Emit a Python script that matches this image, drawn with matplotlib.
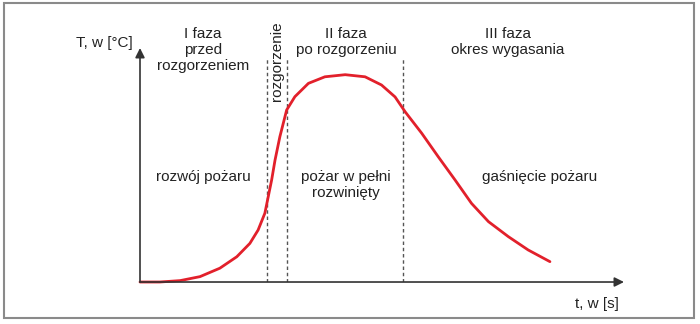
import matplotlib.pyplot as plt
import matplotlib.patches as patches

plt.rcParams['font.family'] = ['Liberation Sans', 'DejaVu Sans']

# krzywa temperatury pożaru (t i T w jednostkach umownych 0-100)
czas = [0, 4.1, 8.3, 12.4, 16.5, 20.0, 22.7, 24.4, 25.8, 26.5, 27.2, 27.9,
        28.9, 30.3, 32.0, 34.8, 38.2, 42.4, 46.5, 49.9, 52.7, 54.8, 58.2,
        61.6, 65.1, 68.5, 72.0, 76.1, 80.2, 84.7]
temperatura = [0, 0, 0.6, 2.3, 5.9, 10.8, 16.5, 22.2, 29.4, 36.5, 43.6,
               52.1, 62.1, 73.5, 79.2, 84.9, 87.7, 88.6, 87.7, 84.2, 79.1,
               72.7, 63.6, 53.6, 43.6, 33.6, 25.8, 19.4, 13.7, 8.7]

# granice faz
granice = [26.2, 30.4, 54.3]
wys_granic = 96.2

# opisy faz
faza_x = [13.0, 42.6, 76.0]
faza_opis = ["I faza\nprzed\nrozgorzeniem", "II faza\npo rozgorzeniu",
             "III faza\nokres wygasania"]
stan_x = [13.0, 42.6, 82.6]
stan_opis = ["rozwój pożaru", "pożar w pełni\nrozwinięty", "gaśnięcie pożaru"]

fig = plt.figure(figsize=(7, 3.24), dpi=100)
fig.patches.append(patches.Rectangle((0.006, 0.018), 0.985, 0.972,
                                     transform=fig.transFigure, fill=False,
                                     edgecolor='#8a8a8a', linewidth=1.5))

ax = fig.add_axes([0.2, 0.1296, 0.6914, 0.7222])
ax.set_xlim(0, 100)
ax.set_ylim(0, 100)
ax.axis('off')

# osie ze strzałkami
ax.annotate('', xy=(100, 0), xytext=(0, 0), annotation_clip=False,
            arrowprops=dict(arrowstyle='-|>', color='#333333', lw=1.2,
                            mutation_scale=14, shrinkA=0, shrinkB=0))
ax.annotate('', xy=(0, 100), xytext=(0, 0), annotation_clip=False,
            arrowprops=dict(arrowstyle='-|>', color='#333333', lw=1.2,
                            mutation_scale=14, shrinkA=0, shrinkB=0))

ax.vlines(granice, 0, wys_granic, colors='#555555', linestyles=(0, (2.5, 2)),
          linewidth=1)

ax.plot(czas, temperatura, color='#e2202b', linewidth=2, clip_on=False,
        solid_capstyle='round', solid_joinstyle='round')

fs = 11
for x, s in zip(faza_x, faza_opis):
    ax.text(x, 109, s, ha='center', va='top', fontsize=fs, color='#222222',
            linespacing=1.2)
for x, s in zip(stan_x, stan_opis):
    ax.text(x, 48, s, ha='center', va='top', fontsize=fs, color='#222222',
            linespacing=1.2)

ax.text(28.3, 94.4, "rozgorzenie", rotation=90, ha='center', va='center',
        fontsize=fs, color='#222222')
ax.text(-1.4, 102.1, "T, w [°C]", ha='right', va='center', fontsize=fs,
        color='#222222')
ax.text(94.4, -9.4, "t, w [s]", ha='center', va='center', fontsize=fs,
        color='#222222')

fig.savefig('out.png', dpi=100)
